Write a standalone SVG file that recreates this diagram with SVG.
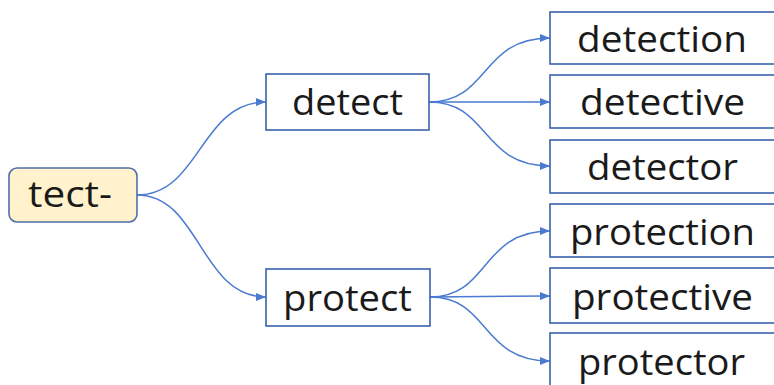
<svg xmlns="http://www.w3.org/2000/svg" width="774" height="385" viewBox="0 0 774 385">
<style>
.box{fill:#ffffff;stroke:#3a62ae;stroke-width:1.6}
.root{fill:#fff2cc;stroke:#4f6fa8;stroke-width:1.6}
.t{font-family:"Open Sans","Noto Sans","DejaVu Sans",sans-serif;font-size:36px;fill:#1a1a1a}
.c{fill:none;stroke:#4a7bd0;stroke-width:1.5;marker-end:url(#ah)}
</style>
<defs>
<marker id="ah" markerWidth="10" markerHeight="8" refX="10" refY="4" orient="auto" markerUnits="userSpaceOnUse">
<path d="M0,0 L10,4 L0,8 Z" fill="#4a7bd0"/>
</marker>
</defs>
<rect width="774" height="385" fill="#ffffff"/>
<g id="connectors">
<path class="c" d="M137,195 C200,195 200,102 266,102"/>
<path class="c" d="M137,195 C200,195 200,297 266,297"/>
<path class="c" d="M429,102 C490,102 480,38 550,38"/>
<path class="c" d="M429,102 L550,102"/>
<path class="c" d="M429,102 C490,102 480,166 550,166"/>
<path class="c" d="M430,297 C490,297 480,231 550,231"/>
<path class="c" d="M430,297 L550,296"/>
<path class="c" d="M430,297 C490,297 480,361 550,361"/>
</g>
<g id="n-tect">
<rect class="root" x="9" y="168" width="128" height="54" rx="8"/>
<text class="t" x="28" y="207" textLength="84" lengthAdjust="spacingAndGlyphs">tect-</text>
</g>
<g id="n-detect">
<rect class="box" x="266" y="74" width="163" height="56"/>
<text class="t" x="292" y="115" textLength="111" lengthAdjust="spacingAndGlyphs">detect</text>
</g>
<g id="n-protect">
<rect class="box" x="266" y="269" width="164" height="57"/>
<text class="t" x="283" y="311" textLength="129" lengthAdjust="spacingAndGlyphs">protect</text>
</g>
<g id="n-detection">
<rect class="box" x="550" y="12" width="230" height="52"/>
<text class="t" x="577" y="52" textLength="170" lengthAdjust="spacingAndGlyphs">detection</text>
</g>
<g id="n-detective">
<rect class="box" x="550" y="75" width="230" height="53"/>
<text class="t" x="580" y="115" textLength="165" lengthAdjust="spacingAndGlyphs">detective</text>
</g>
<g id="n-detector">
<rect class="box" x="550" y="140" width="230" height="53"/>
<text class="t" x="587" y="180" textLength="151" lengthAdjust="spacingAndGlyphs">detector</text>
</g>
<g id="n-protection">
<rect class="box" x="550" y="204" width="230" height="53"/>
<text class="t" x="570" y="245" textLength="185" lengthAdjust="spacingAndGlyphs">protection</text>
</g>
<g id="n-protective">
<rect class="box" x="550" y="268" width="230" height="55"/>
<text class="t" x="572" y="310" textLength="181" lengthAdjust="spacingAndGlyphs">protective</text>
</g>
<g id="n-protector">
<rect class="box" x="550" y="333" width="230" height="60"/>
<text class="t" x="578" y="375" textLength="167" lengthAdjust="spacingAndGlyphs">protector</text>
</g>
</svg>
